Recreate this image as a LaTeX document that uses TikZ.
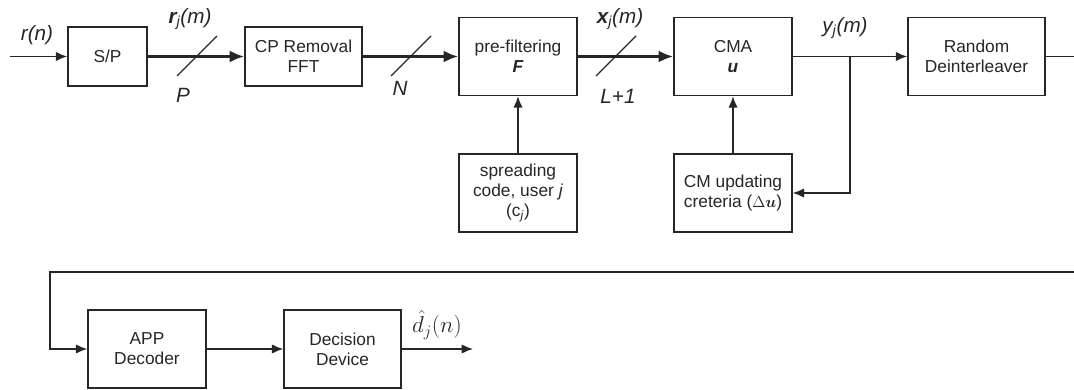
\documentclass[tikz,border=0pt]{standalone}
\usepackage{amsmath}
\usepackage{fontspec}
\setmainfont{Liberation Sans}
\usetikzlibrary{arrows.meta}
\definecolor{ink}{HTML}{262626}
\begin{document}
\begin{tikzpicture}[x=0.75pt,y=-0.75pt,
  every node/.style={text=ink},
  blk/.style={draw=ink,line width=1.1pt,inner sep=0pt,align=center,font=\fontsize{13}{15}\selectfont},
  sblk/.style={blk,minimum width=59.25pt,minimum height=44.25pt},
  wblk/.style={blk,minimum width=88.5pt,minimum height=58.5pt},
  lbl/.style={font=\fontsize{15.5}{17}\selectfont\itshape,inner sep=0pt},
  thin/.style={draw=ink,line width=1.1pt,-{Latex[length=8.5pt,width=7pt]}},
  bus/.style={draw=ink,line width=2.2pt,-{Latex[length=11pt,width=9pt]}},
  plain/.style={draw=ink,line width=1.1pt},
  slash/.style={draw=ink,line width=0.9pt}]
\useasboundingbox (0,0) rectangle (1074,389);
% blocks
\node[sblk] (sp) at (107.5,56.5) {S/P};
\node[blk,minimum width=87.75pt,minimum height=44.25pt] (cp) at (303.5,56.5) {CP Removal\\FFT};
\node[wblk] (pf) at (518,56.5) {pre-filtering\\\textbf{\textit{F}}};
\node[wblk] (cma) at (733,56.5) {CMA\\\textbf{\textit{u}}};
\node[blk,minimum width=102.75pt,minimum height=58.5pt] (rd) at (976.5,56.5) {Random\\Deinterleaver};
\node[wblk] (sc) at (518,193) {spreading\\code, user \textit{j}\\(c\textsubscript{\textit{j}})};
\node[wblk] (cm) at (733,193) {CM updating\\creteria ($\Delta\boldsymbol{u}$)};
\node[wblk] (app) at (147,349) {APP\\Decoder};
\node[blk,minimum width=87.75pt,minimum height=58.5pt] (dd) at (342.5,349) {Decision\\Device};
% coordinates
\coordinate (in) at (10,56.5);
\coordinate (br) at (850,56.5);
\coordinate (rout) at (1074,56.5);
\coordinate (bin) at (1074,272);
\coordinate (bl) at (50,272);
\coordinate (out) at (473,349);
% connectors
\draw[thin] (in) -- (sp);
\draw[bus] (sp) -- (cp);
\draw[bus] (cp) -- (pf);
\draw[bus] (pf) -- (cma);
\draw[thin] (cma) -- (rd);
\draw[thin] (br) |- (cm.east);
\draw[thin] (sc) -- (pf);
\draw[thin] (cm) -- (cma);
\draw[plain] (rd) -- (rout);
\draw[thin] (bin) -- (bl) |- (app.west);
\draw[thin] (app) -- (dd);
\draw[thin] (dd) -- (out);
% slashes
\draw[slash] (177,76) -- (217,36);
\draw[slash] (391,76) -- (431,36);
\draw[slash] (596,76) -- (636,36);
% labels
\node[lbl] (l1) at (37,35) {r(n)};
\node[lbl] (l2) at (190,19) {\textbf{r}\textsubscript{j}(m)};
\node[lbl] (l3) at (183,95) {P};
\node[lbl] (l4) at (400,88) {N};
\node[lbl] (l5) at (620,19) {\textbf{x}\textsubscript{j}(m)};
\node[lbl] (l6) at (618,96) {L+1};
\node[lbl] (l7) at (845,28) {y\textsubscript{j}(m)};
\node[inner sep=0pt,font=\fontsize{17}{19}\selectfont] (l8) at (437,325) {$\hat{d}_j(n)$};
\end{tikzpicture}
\end{document}
